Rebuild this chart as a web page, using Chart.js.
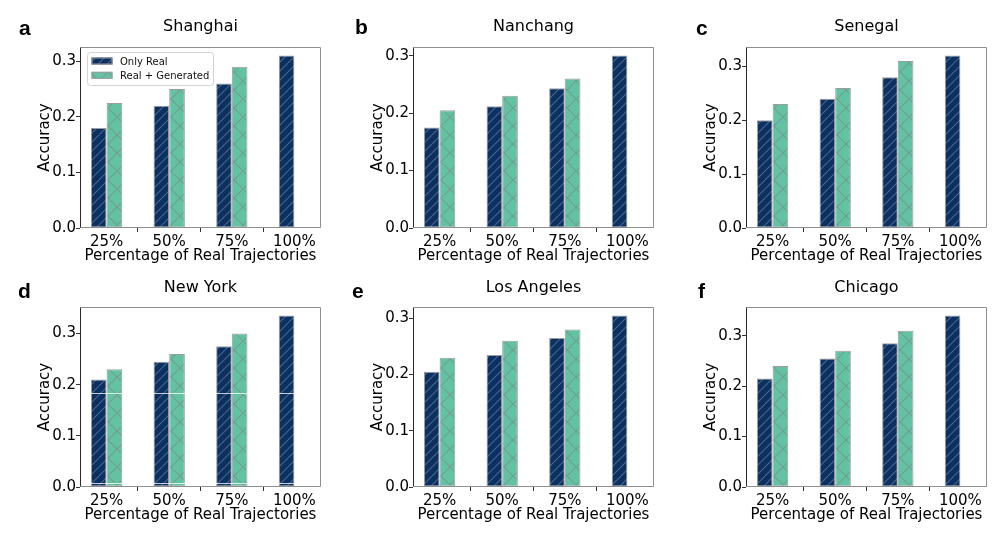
<!DOCTYPE html>
<html><head><meta charset="utf-8">
<script src="https://cdn.jsdelivr.net/npm/chart.js@4.4.1/dist/chart.umd.min.js"></script>
<style>
html,body{margin:0;padding:0;background:#fff;}
#wrap{position:relative;width:997px;height:540px;overflow:hidden;background:#fff;}
#wrap canvas{position:absolute;}
</style></head><body><div id="wrap"></div>
<script>
// ---------- data ----------
const categories = ['25%', '50%', '75%', '100%'];
const seriesLabels = ['Only Real', 'Real + Generated'];
const cities = ['Shanghai', 'Nanchang', 'Senegal', 'New York', 'Los Angeles', 'Chicago'];
const panelLetters = ['a', 'b', 'c', 'd', 'e', 'f'];
const yTickValues = [0.0, 0.1, 0.2, 0.3];
const xAxisTitle = 'Percentage of Real Trajectories';
const yAxisTitle = 'Accuracy';

const onlyRealShanghai   = [0.18, 0.22, 0.26, 0.31];
const generatedShanghai  = [0.225, 0.25, 0.29, 0];
const onlyRealNanchang   = [0.175, 0.212, 0.243, 0.30];
const generatedNanchang  = [0.205, 0.23, 0.26, 0];
const onlyRealSenegal    = [0.20, 0.24, 0.28, 0.32];
const generatedSenegal   = [0.23, 0.26, 0.31, 0];
const onlyRealNewYork    = [0.21, 0.245, 0.275, 0.335];
const generatedNewYork   = [0.23, 0.26, 0.30, 0];
const onlyRealLosAngeles = [0.205, 0.235, 0.265, 0.305];
const generatedLosAngeles= [0.23, 0.26, 0.28, 0];
const onlyRealChicago    = [0.215, 0.255, 0.285, 0.34];
const generatedChicago   = [0.24, 0.27, 0.31, 0];
// faint white horizontal lines visible across the New York bars
const newYorkWhiteLines  = [0.184, 0.008];

const onlyRealAll  = [onlyRealShanghai, onlyRealNanchang, onlyRealSenegal, onlyRealNewYork, onlyRealLosAngeles, onlyRealChicago];
const generatedAll = [generatedShanghai, generatedNanchang, generatedSenegal, generatedNewYork, generatedLosAngeles, generatedChicago];
const whiteLinesAll = [[], [], [], newYorkWhiteLines, [], []];

// ---------- layout / style ----------
const colAxesLeft = [80, 413, 746];
const rowAxesTop = [47, 307];
const axesWidth = 241;
const rowAxesHeight = [181, 180];
const letterPos = [[19, 35], [355, 34], [696, 35], [18, 298], [352, 298], [698, 298]];
const titleGap = [16, 15];
const CANVAS_W = 332, CANVAS_H = 272;
const AX_LEFT_IN = 80, AX_TOP_IN = 47;
const FONT = '"DejaVu Sans", sans-serif';
const BLUE = '#0a3162', GREEN = '#64c2a4', EDGE = '#9c9c9c';

function makeHatch(bg, color, spacing, cross, lw) {
  const c = document.createElement('canvas');
  c.width = spacing; c.height = spacing;
  const g = c.getContext('2d');
  g.fillStyle = bg; g.fillRect(0, 0, spacing, spacing);
  g.strokeStyle = color; g.lineWidth = lw;
  g.beginPath();
  for (let k = -1; k <= 1; k++) {
    g.moveTo(k * spacing, spacing); g.lineTo(k * spacing + spacing, 0);
    if (cross) { g.moveTo(k * spacing, 0); g.lineTo(k * spacing + spacing, spacing); }
  }
  g.stroke();
  return g.createPattern(c, 'repeat');
}
const bluePattern = makeHatch(BLUE, 'rgba(175,175,185,0.42)', 9, false, 1.1);
const greenPattern = makeHatch(GREEN, 'rgba(120,130,128,0.55)', 18, true, 1.1);

const decor = {
  id: 'decor',
  afterDatasetsDraw(chart, args, o) {
    const { ctx, chartArea: a } = chart;
    const ys = chart.scales.y, xs = chart.scales.x;
    if (!o.whiteLines || !o.whiteLines.length) return;
    const x0 = xs.getPixelForValue(-0.25), x1 = xs.getPixelForValue(categories.length - 1);
    ctx.save();
    ctx.strokeStyle = 'rgba(255,255,255,0.75)';
    ctx.lineWidth = 1;
    o.whiteLines.forEach(v => {
      const y = Math.round(ys.getPixelForValue(v)) + 0.5;
      ctx.beginPath(); ctx.moveTo(x0, y); ctx.lineTo(x1, y); ctx.stroke();
    });
    ctx.restore();
  },
  afterDraw(chart, args, o) {
    const { ctx, chartArea: a } = chart;
    const L = Math.round(a.left) + 0.5, R = Math.round(a.right) - 0.5;
    const T = Math.round(a.top) + 0.5, B = Math.round(a.bottom) - 0.5;
    ctx.save();
    ctx.lineWidth = 1;
    ctx.strokeStyle = '#8e8e8e';
    ctx.beginPath();
    ctx.moveTo(L, B); ctx.lineTo(R, B); ctx.lineTo(R, T); ctx.lineTo(L, T);
    ctx.stroke();
    ctx.strokeStyle = '#2a2a2a';
    ctx.beginPath(); ctx.moveTo(L, T); ctx.lineTo(L, B); ctx.stroke();

    ctx.fillStyle = '#000';
    const cx = (a.left + a.right) / 2;
    ctx.font = '16px ' + FONT;
    ctx.textAlign = 'center'; ctx.textBaseline = 'alphabetic';
    ctx.fillText(o.title, cx, a.top - o.titleGap);
    ctx.font = '15px ' + FONT;
    ctx.fillText(xAxisTitle, cx, a.bottom + 32);
    ctx.save();
    ctx.translate(a.left - 31.5, (a.top + a.bottom) / 2);
    ctx.rotate(-Math.PI / 2);
    ctx.fillText(yAxisTitle, 0, 0);
    ctx.restore();
    ctx.font = 'bold 21px "Liberation Sans", Arial, sans-serif';
    ctx.textAlign = 'left';
    ctx.fillText(o.letter, o.letterX, o.letterY);
    if (o.legend) {
      const lx = a.left + 7.5, ly = a.top + 5.5, lw = 126, lh = 33;
      ctx.fillStyle = 'rgba(255,255,255,0.85)';
      ctx.strokeStyle = '#d2d2d2';
      ctx.beginPath();
      ctx.roundRect(lx, ly, lw, lh, 3);
      ctx.fill(); ctx.stroke();
      const pats = [bluePattern, greenPattern];
      chart.data.datasets.forEach((ds, i) => {
        const hy = ly + 5 + i * 14.3;
        ctx.fillStyle = pats[i];
        ctx.fillRect(lx + 4, hy, 21, 7);
        ctx.strokeStyle = EDGE; ctx.lineWidth = 1;
        ctx.strokeRect(lx + 4.5, hy + 0.5, 20, 6);
        ctx.fillStyle = '#111';
        ctx.font = '10px ' + FONT;
        ctx.textAlign = 'left';
        ctx.fillText(ds.label, lx + 32.5, hy + 7.5);
      });
    }
    ctx.restore();
  }
};

const wrap = document.getElementById('wrap');
cities.forEach((city, p) => {
  const col = p % 3, row = Math.floor(p / 3);
  const cLeft = colAxesLeft[col] - AX_LEFT_IN;
  const cTop = rowAxesTop[row] - AX_TOP_IN;
  const axH = rowAxesHeight[row];
  const canvas = document.createElement('canvas');
  canvas.width = CANVAS_W; canvas.height = CANVAS_H;
  canvas.style.left = cLeft + 'px'; canvas.style.top = cTop + 'px';
  canvas.style.width = CANVAS_W + 'px'; canvas.style.height = CANVAS_H + 'px';
  wrap.appendChild(canvas);

  const real = onlyRealAll[p], gen = generatedAll[p];
  const ymax = Math.max(...real, ...gen) * 1.05;
  const axBottomIn = AX_TOP_IN + axH;

  new Chart(canvas, {
    type: 'bar',
    data: {
      datasets: [
        { label: seriesLabels[0], data: real.map((v, i) => ({ x: i, y: v })),
          backgroundColor: bluePattern, borderColor: EDGE, borderWidth: 1, borderSkipped: false },
        { label: seriesLabels[1], data: gen.map((v, i) => ({ x: i, y: v })),
          backgroundColor: greenPattern, borderColor: EDGE, borderWidth: 1, borderSkipped: false }
      ]
    },
    options: {
      responsive: false, animation: false, devicePixelRatio: 1,
      layout: { padding: { left: 0, top: AX_TOP_IN, right: CANVAS_W - AX_LEFT_IN - axesWidth, bottom: 0 } },
      datasets: { bar: { categoryPercentage: 0.5, barPercentage: 1.0 } },
      plugins: {
        legend: { display: false }, tooltip: { enabled: false },
        decor: { title: city, titleGap: titleGap[row], letter: panelLetters[p],
                 letterX: letterPos[p][0] - cLeft, letterY: letterPos[p][1] - cTop, legend: p === 0,
                 whiteLines: whiteLinesAll[p] }
      },
      scales: {
        x: {
          type: 'linear', min: -0.425, max: categories.length - 1 + 0.425, offset: false,
          afterBuildTicks: s => { s.ticks = categories.map((c, i) => ({ value: i })); },
          afterFit: s => { s.height = CANVAS_H - axBottomIn; },
          ticks: { callback: v => categories[v], font: { family: 'DejaVu Sans', size: 15 }, color: '#000',
                   padding: 1, autoSkip: false, maxRotation: 0 },
          grid: { drawOnChartArea: false, drawTicks: true, tickLength: 4, color: '#333' },
          border: { display: false }
        },
        y: {
          min: 0, max: ymax,
          afterBuildTicks: s => { s.ticks = yTickValues.map(v => ({ value: v })); },
          afterFit: s => { s.width = AX_LEFT_IN; },
          ticks: { callback: v => v.toFixed(1), font: { family: 'DejaVu Sans', size: 15 }, color: '#000', padding: 0 },
          grid: { drawOnChartArea: false, drawTicks: true, tickLength: 4, color: '#333' },
          border: { display: false }
        }
      }
    },
    plugins: [decor]
  });
});
</script></body></html>
